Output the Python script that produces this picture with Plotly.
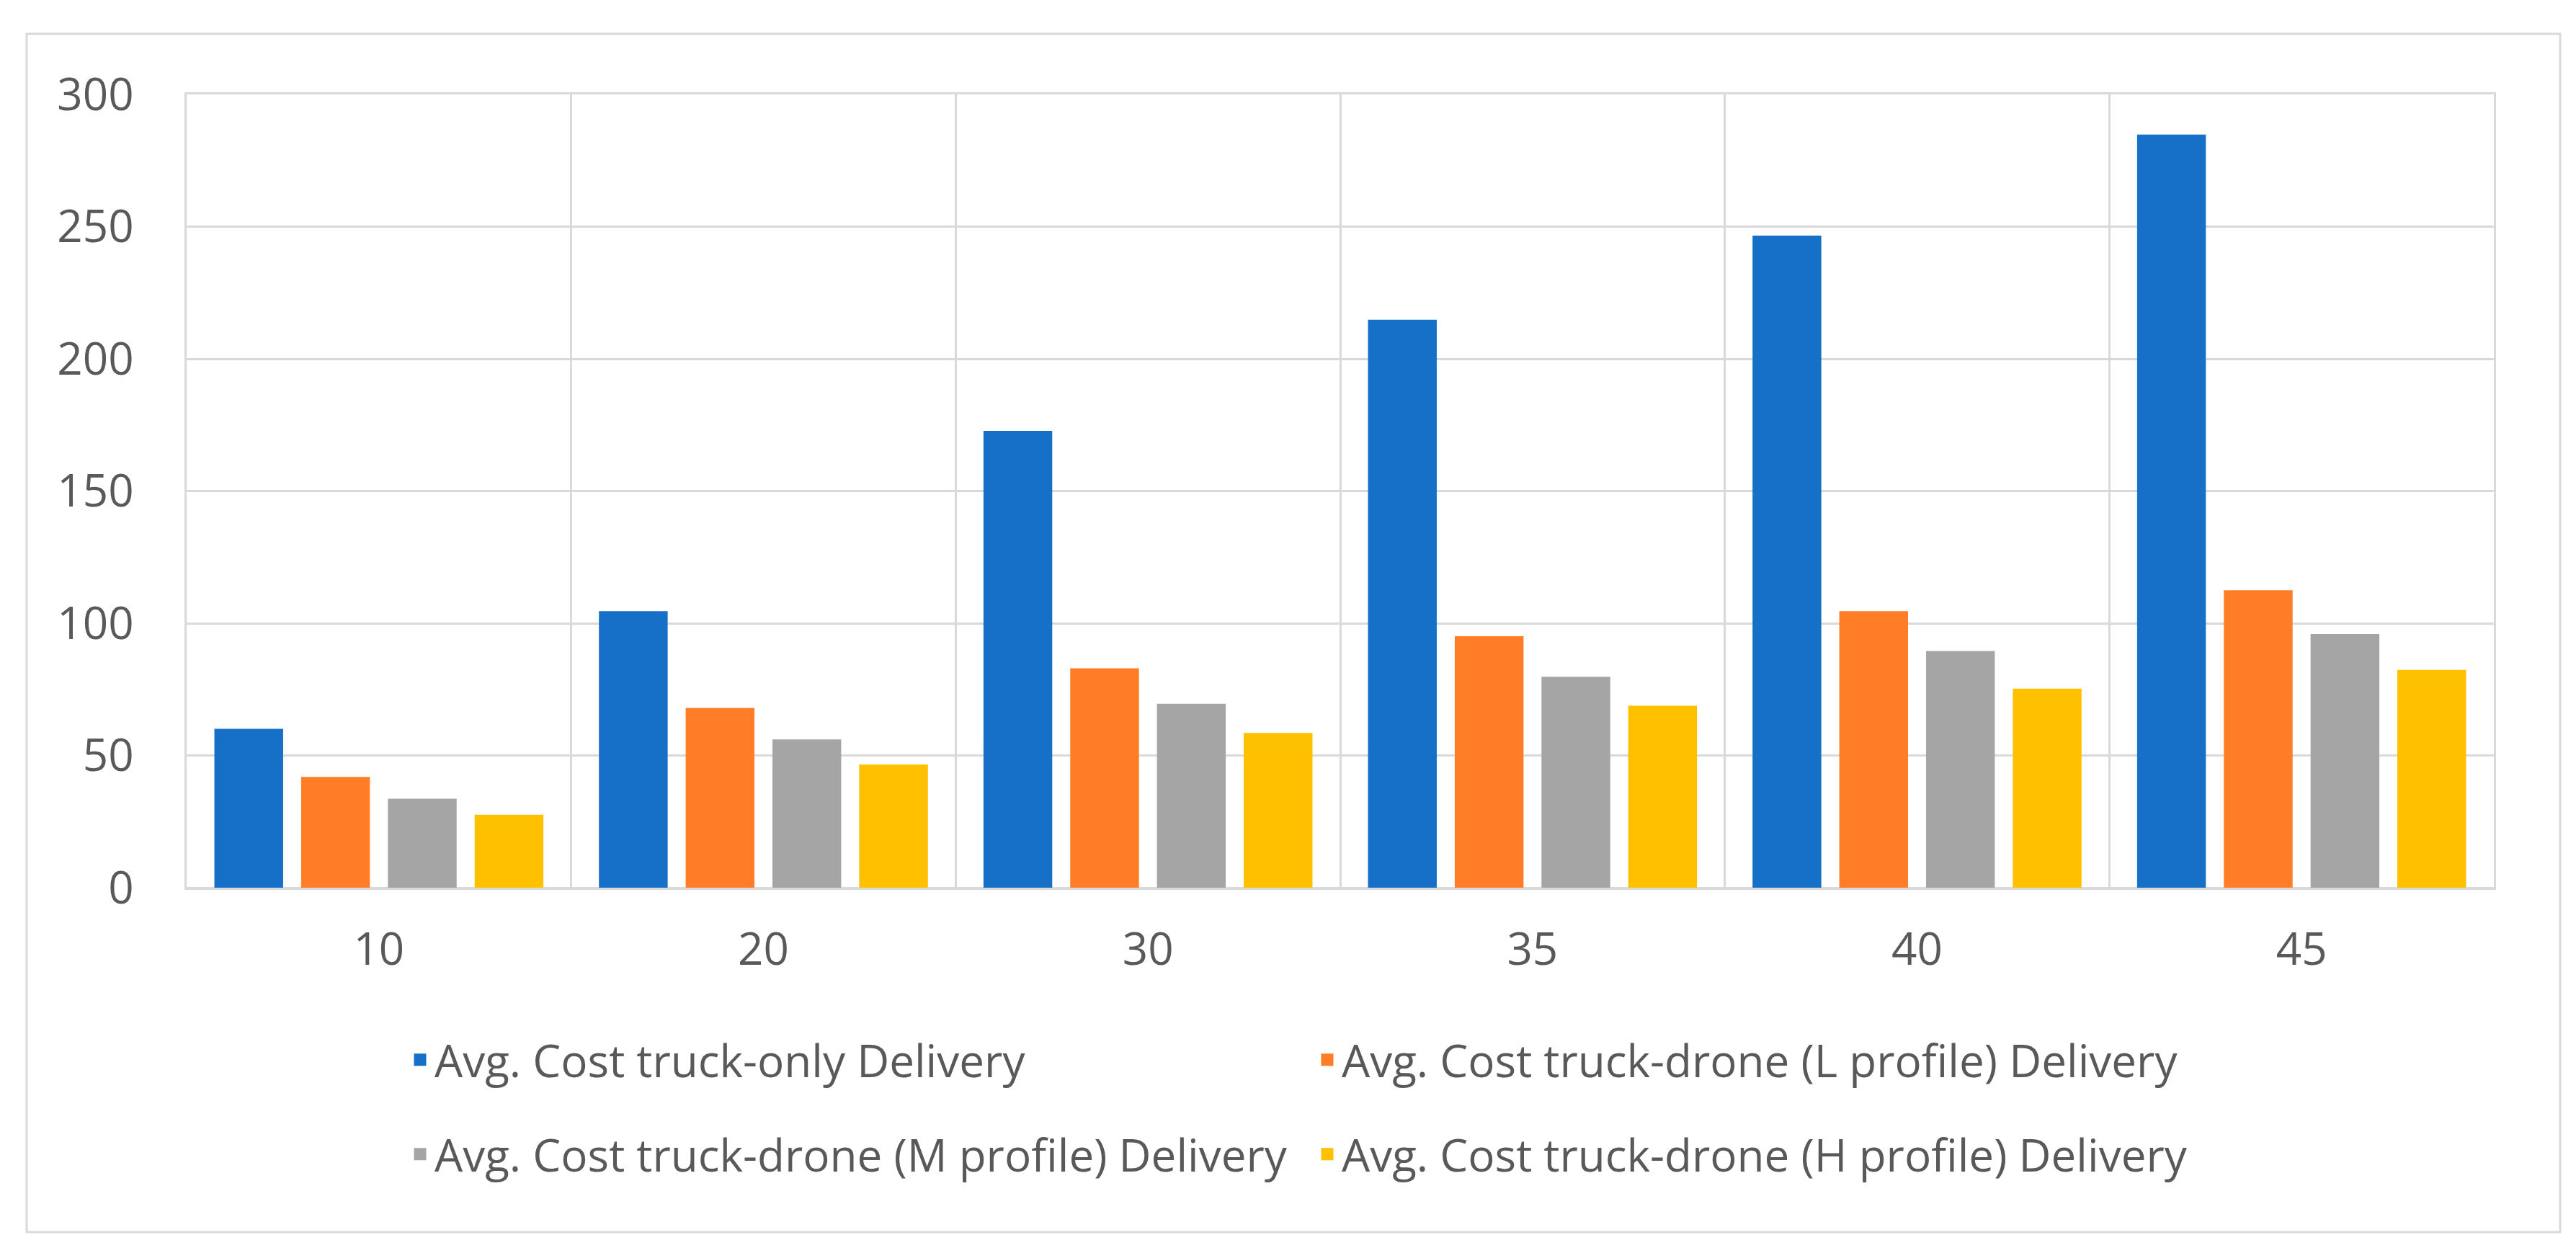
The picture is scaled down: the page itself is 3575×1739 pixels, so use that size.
import plotly.graph_objects as go

categories = ["10", "20", "30", "35", "40", "45"]
truck_only = [59.4, 103.9, 172.1, 214.1, 245.9, 284.1]
drone_L = [41.2, 67.3, 82.3, 94.4, 103.9, 111.8]
drone_M = [33.0, 55.4, 68.9, 79.1, 88.8, 95.2]
drone_H = [26.9, 45.9, 57.8, 68.1, 74.6, 81.7]

series_names = [
    "Avg. Cost truck-only Delivery",
    "Avg. Cost truck-drone (L profile) Delivery",
    "Avg. Cost truck-drone (M profile) Delivery",
    "Avg. Cost truck-drone (H profile) Delivery",
]
series_values = [truck_only, drone_L, drone_M, drone_H]
colors = ["#1670C8", "#FE7D26", "#A5A5A5", "#FFC000"]
legend_ids = ["legend", "legend", "legend2", "legend2"]

W, H = 3575, 1739
L, R, T, B = 251, 3575 - 3453, 123, 1739 - 1224
PW, PH = W - L - R, H - T - B

def px_x(px):
    return (px - L) / PW

def px_y(py):
    return (H - B - py) / PH

FONT = "Open Sans"
FS = 62
TXT = "#595959"
GRID = "#D9D9D9"

fig = go.Figure()
for name, vals, col, lg in zip(series_names, series_values, colors, legend_ids):
    fig.add_trace(go.Bar(
        x=categories, y=vals, name=name, legend=lg,
        marker=dict(color=col, line=dict(color=col, width=5)),
    ))

legend_common = dict(
    orientation="h", xanchor="left", yanchor="middle",
    entrywidth=1214, entrywidthmode="pixels",
    font=dict(family=FONT, size=FS, color=TXT),
    bgcolor="rgba(0,0,0,0)", borderwidth=0,
    traceorder="normal",
)

fig.update_layout(
    width=W, height=H,
    margin=dict(l=L, r=R, t=T, b=B, autoexpand=False),
    paper_bgcolor="white", plot_bgcolor="white",
    barmode="group", bargap=0.0976, bargroupgap=0.249,
    font=dict(family=FONT, size=FS, color=TXT),
    legend=dict(x=px_x(555), y=px_y(1463), **legend_common),
    legend2=dict(x=px_x(555), y=px_y(1594), **legend_common),
    xaxis=dict(
        type="category", tickson="boundaries", showgrid=True,
        gridcolor=GRID, gridwidth=3, ticks="",
        showline=True, mirror=True, linecolor=GRID, linewidth=3,
        tickfont=dict(family=FONT, size=FS, color=TXT),
        ticklabelstandoff=30,
    ),
    yaxis=dict(
        range=[0, 300], dtick=50, showgrid=True, gridcolor=GRID, gridwidth=3,
        zeroline=True, zerolinecolor=GRID, zerolinewidth=3,
        showline=True, mirror=True, linecolor=GRID, linewidth=3, ticks="",
        tickfont=dict(family=FONT, size=FS, color=TXT),
        ticklabelstandoff=58,
    ),
    shapes=[dict(
        type="rect", xref="paper", yref="paper",
        x0=px_x(29), x1=px_x(3545), y0=px_y(1702), y1=px_y(39),
        line=dict(color=GRID, width=3), fillcolor="rgba(0,0,0,0)", layer="below",
    )],
)

fig.write_html("out.html")
